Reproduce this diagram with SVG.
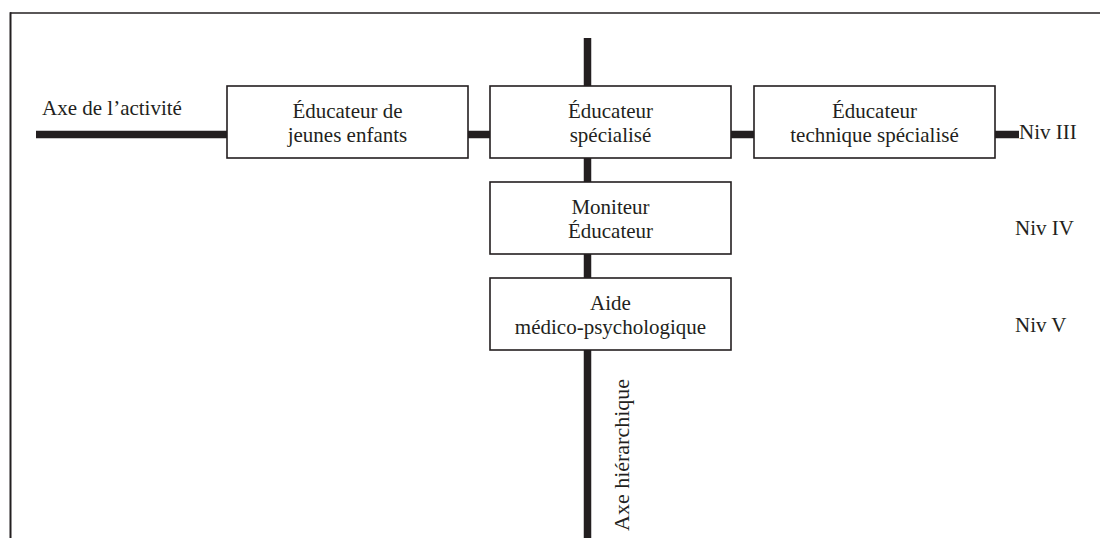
<svg xmlns="http://www.w3.org/2000/svg" width="1100" height="538" viewBox="0 0 1100 538" font-family="'Liberation Serif', 'Times New Roman', serif" font-size="21">
<style>
  .frame { fill: none; stroke: #231f20; }
  .box { fill: #ffffff; stroke: #231f20; stroke-width: 1.6; }
  .axis { stroke: #231f20; stroke-width: 7.5; fill: none; }
  .t { font-family: "Liberation Serif", "Times New Roman", serif; font-size: 21px; fill: #231f20; }
  .c { font-family: "Liberation Serif", "Times New Roman", serif; font-size: 21px; fill: #231f20; text-anchor: middle; }
</style>
<rect width="1100" height="538" fill="#ffffff"/>
<g id="frame">
  <line class="frame" x1="10" y1="13" x2="1100" y2="13" stroke-width="1.6"/>
  <line class="frame" x1="10.5" y1="12.2" x2="10.5" y2="538" stroke-width="2"/>
</g>
<g id="connectors">
  <line class="axis" x1="36" y1="134.5" x2="228" y2="134.5"/>
  <line class="axis" x1="468" y1="134.5" x2="490" y2="134.5"/>
  <line class="axis" x1="731" y1="134.5" x2="754" y2="134.5"/>
  <line class="axis" x1="995" y1="134.5" x2="1019" y2="134.5"/>
  <line class="axis" x1="587.5" y1="38" x2="587.5" y2="86"/>
  <line class="axis" x1="587.5" y1="158" x2="587.5" y2="182"/>
  <line class="axis" x1="587.5" y1="254" x2="587.5" y2="278"/>
  <line class="axis" x1="587.5" y1="350" x2="587.5" y2="538"/>
</g>
<g id="label-activite">
  <text class="t" x="42" y="115">Axe de l’activité</text>
</g>
<g id="label-hierarchie">
  <text class="t" transform="translate(629,531) rotate(-90)" style="font-size:22px">Axe hiérarchique</text>
</g>
<g id="node-eje">
  <rect class="box" x="227" y="86" width="241" height="72"/>
  <text class="c" x="347.5" y="117.5">Éducateur de</text>
  <text class="c" x="347.5" y="142">jeunes enfants</text>
</g>
<g id="node-es">
  <rect class="box" x="490" y="86" width="241" height="72"/>
  <text class="c" x="610.5" y="117.5">Éducateur</text>
  <text class="c" x="610.5" y="142">spécialisé</text>
</g>
<g id="node-ets">
  <rect class="box" x="754" y="86" width="241" height="72"/>
  <text class="c" x="874.5" y="117.5">Éducateur</text>
  <text class="c" x="874.5" y="142">technique spécialisé</text>
</g>
<g id="node-me">
  <rect class="box" x="490" y="182" width="241" height="72"/>
  <text class="c" x="610.5" y="213.5">Moniteur</text>
  <text class="c" x="610.5" y="238">Éducateur</text>
</g>
<g id="node-amp">
  <rect class="box" x="490" y="278" width="241" height="72"/>
  <text class="c" x="610.5" y="309.5">Aide</text>
  <text class="c" x="610.5" y="334">médico-psychologique</text>
</g>
<g id="levels">
  <text class="t" x="1019" y="139">Niv III</text>
  <text class="t" x="1015" y="235">Niv IV</text>
  <text class="t" x="1015" y="332">Niv V</text>
</g>
</svg>
